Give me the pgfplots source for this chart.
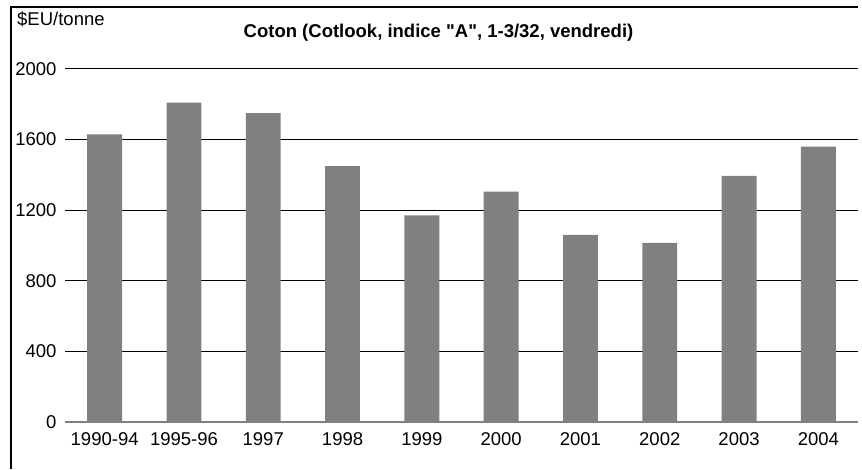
\documentclass[border=0pt]{standalone}
\usepackage{pgfplots}
\pgfplotsset{compat=1.18}
\usepackage{fontspec}
\setmainfont{Liberation Sans}[Ligatures=TeXOff]
\begin{document}
\begin{tikzpicture}[x=1pt,y=1pt]
\useasboundingbox (0,0) rectangle (862,469);
\draw[line width=1.3pt] (11,0) -- (11,462) -- (858,462);
\node[font=\fontsize{18.5}{20}\selectfont\bfseries] at (438.5,436) {Coton (Cotlook, indice "A", 1-3/32, vendredi)};
\node[font=\fontsize{18.5}{20}\selectfont, anchor=west, inner sep=0pt] at (17,450) {\$EU/tonne};
\begin{axis}[
  at={(65pt,47pt)}, anchor=south west,
  scale only axis, width=793pt, height=353pt,
  xmin=-0.5, xmax=9.5, ymin=0, ymax=2000,
  ytick={0,400,800,1200,1600,2000},
  xtick={0,...,9},
  xticklabels={1990-94,1995-96,1997,1998,1999,2000,2001,2002,2003,2004},
  major tick length=0pt,
  axis line style={draw=none},
  ymajorgrids, grid style={black, line width=1pt},
  tick label style={font=\fontsize{18.5}{20}\selectfont},
  /pgf/number format/assume math mode=true,
  /pgf/number format/1000 sep={},
  yticklabel style={xshift=-5pt},
  xticklabel style={yshift=-7pt},
]
\addplot[ybar, bar width=0.44, fill=black!50, draw=none] coordinates {
 (0,1630) (1,1810) (2,1750) (3,1450) (4,1170) (5,1305) (6,1060) (7,1015) (8,1395) (9,1560)};
\draw[black!50, line width=1.2pt] (axis cs:-0.5,0) -- (axis cs:9.5,0);
\end{axis}
\end{tikzpicture}
\end{document}
